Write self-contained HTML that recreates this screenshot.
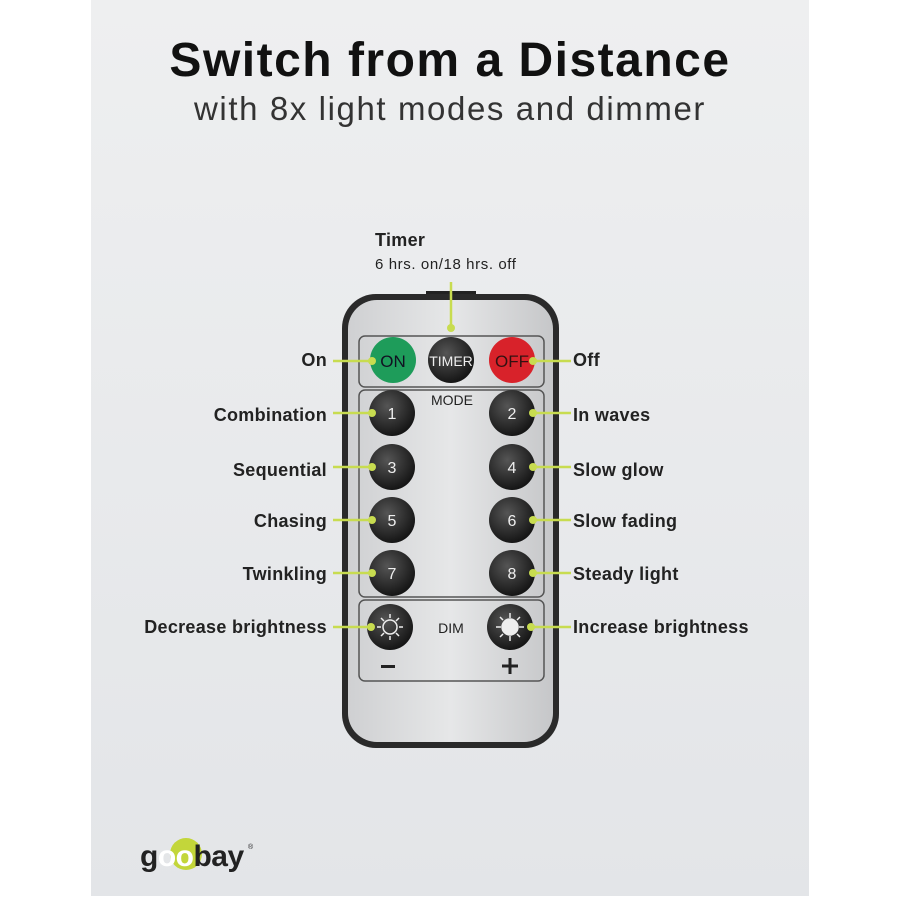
<!DOCTYPE html>
<html><head><meta charset="utf-8"><style>
body{margin:0;width:900px;height:900px;background:#fff;position:relative;overflow:hidden;font-family:"Liberation Sans",sans-serif}
.panel{position:absolute;left:91px;top:0;width:718px;height:896px;background:linear-gradient(#eeeff0,#e3e5e8)}
.t1{position:absolute;top:33px;width:900px;text-align:center;font-size:48px;font-weight:bold;color:#111;letter-spacing:1.5px}
.t2{position:absolute;top:90px;width:900px;text-align:center;font-size:33px;color:#333;letter-spacing:1.6px}
.lbl{position:absolute;font-size:18px;font-weight:bold;color:#222;white-space:nowrap;letter-spacing:0.3px}
.l{text-align:right;right:573px}
.r{left:573px}
</style></head><body>
<div class="panel"></div>
<div class="t1">Switch from a Distance</div>
<div class="t2">with 8x light modes and dimmer</div>
<div class="lbl" style="left:375px;top:230px">Timer</div>
<div class="lbl" style="left:375px;top:256px;font-weight:normal;font-size:15px;letter-spacing:0.6px">6 hrs. on/18 hrs. off</div>
<div class="lbl l" style="top:350px">On</div>
<div class="lbl r" style="top:350px">Off</div>
<div class="lbl l" style="top:405px">Combination</div>
<div class="lbl r" style="top:405px">In waves</div>
<div class="lbl l" style="top:460px">Sequential</div>
<div class="lbl r" style="top:460px">Slow glow</div>
<div class="lbl l" style="top:511px">Chasing</div>
<div class="lbl r" style="top:511px">Slow fading</div>
<div class="lbl l" style="top:564px">Twinkling</div>
<div class="lbl r" style="top:564px">Steady light</div>
<div class="lbl l" style="top:617px">Decrease brightness</div>
<div class="lbl r" style="top:617px">Increase brightness</div>
<svg width="900" height="900" style="position:absolute;left:0;top:0" font-family="Liberation Sans, sans-serif">
<defs><radialGradient id="bk" cx="0.4" cy="0.35" r="0.7"><stop offset="0" stop-color="#555"/><stop offset="1" stop-color="#111"/></radialGradient>
<linearGradient id="sv" x1="0" x2="1"><stop offset="0" stop-color="#cfd0d2"/><stop offset="0.5" stop-color="#e6e7e8"/><stop offset="1" stop-color="#c6c7c9"/></linearGradient></defs>
<rect x="426" y="291" width="50" height="6" fill="#222"/>
<rect x="342" y="294" width="217" height="454" rx="34" fill="#2a2a2a"/>
<rect x="348" y="300" width="205" height="442" rx="29" fill="url(#sv)"/>
<rect x="359" y="336" width="185" height="51" rx="6" fill="none" stroke="#555" stroke-width="1.5"/>
<rect x="359" y="390" width="185" height="207" rx="6" fill="none" stroke="#555" stroke-width="1.5"/>
<rect x="359" y="600" width="185" height="81" rx="6" fill="none" stroke="#555" stroke-width="1.5"/>
<circle cx="393" cy="360" r="23" fill="#1e9c5a"/><text x="393" y="367" text-anchor="middle" font-size="17" fill="#112">ON</text>
<circle cx="451" cy="360" r="23" fill="url(#bk)"/><text x="451" y="366" text-anchor="middle" font-size="14" fill="#eee">TIMER</text>
<circle cx="512" cy="360" r="23" fill="#d8222a"/><text x="512" y="367" text-anchor="middle" font-size="17" fill="#311">OFF</text>
<text x="452" y="405" text-anchor="middle" font-size="14" fill="#222">MODE</text>
<g fill="url(#bk)"><circle cx="392" cy="413" r="23"/><circle cx="512" cy="413" r="23"/><circle cx="392" cy="467" r="23"/><circle cx="512" cy="467" r="23"/><circle cx="392" cy="520" r="23"/><circle cx="512" cy="520" r="23"/><circle cx="392" cy="573" r="23"/><circle cx="512" cy="573" r="23"/><circle cx="390" cy="627" r="23"/><circle cx="510" cy="627" r="23"/></g>
<g fill="#eee" font-size="16" text-anchor="middle"><text x="392" y="419">1</text><text x="512" y="419">2</text><text x="392" y="473">3</text><text x="512" y="473">4</text><text x="392" y="526">5</text><text x="512" y="526">6</text><text x="392" y="579">7</text><text x="512" y="579">8</text></g>
<g stroke="#eee" stroke-width="1.5"><circle cx="390" cy="627" r="7" fill="none"/><circle cx="510" cy="627" r="8" fill="#eee"/>
<path d="M390 614v4M390 636v4M377 627h4M399 627h4M381 618l3 3M396 633l3 3M381 636l3-3M396 621l3-3M510 613v5M510 636v5M496 627h5M519 627h5M500 617l3 3M517 634l3 3M500 637l3-3M517 620l3-3"/></g>
<text x="451" y="633" text-anchor="middle" font-size="14" fill="#222">DIM</text>
<rect x="381" y="665" width="14" height="3" fill="#222"/>
<path d="M510 658v16M502 666h16" stroke="#222" stroke-width="3"/>
<g stroke="#c8dc50" stroke-width="2.5"><path d="M451 282v48M333 361h38M533 361h38M333 413h38M533 413h38M333 467h38M533 467h38M333 520h38M533 520h38M333 573h38M533 573h38M333 627h38M533 627h38"/></g>
<g fill="#c8dc50"><circle cx="451" cy="328" r="4"/><circle cx="372" cy="361" r="4"/><circle cx="533" cy="361" r="4"/><circle cx="372" cy="413" r="4"/><circle cx="533" cy="413" r="4"/><circle cx="372" cy="467" r="4"/><circle cx="533" cy="467" r="4"/><circle cx="372" cy="520" r="4"/><circle cx="533" cy="520" r="4"/><circle cx="372" cy="573" r="4"/><circle cx="533" cy="573" r="4"/><circle cx="371" cy="627" r="4"/><circle cx="531" cy="627" r="4"/></g>
<circle cx="186" cy="854" r="16" fill="#c3d63a"/>
<text x="140" y="866" font-size="30" font-weight="bold" fill="#222" letter-spacing="-0.5">g<tspan fill="#fff">oo</tspan>bay</text>
<text x="248" y="849" font-size="7" fill="#222">®</text>
</svg>
</body></html>
